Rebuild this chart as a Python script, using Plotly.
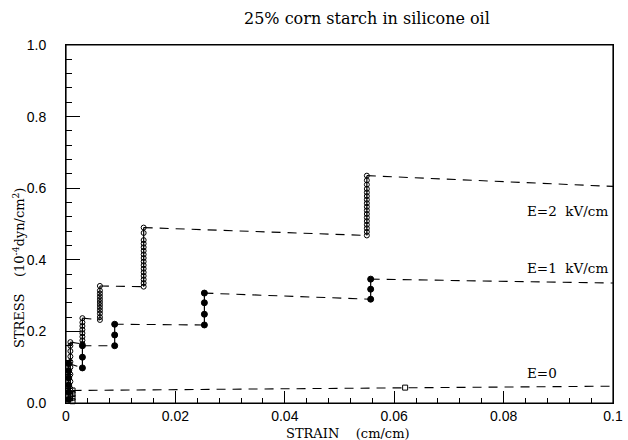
import plotly.graph_objects as go

# ---- data ----
strain_max = 0.1

# E = 2 kV/cm (open circles)
e2_strain = [0.0008, 0.0030, 0.0062, 0.0142, 0.0550]
e2_stress = [
    [0.02, 0.04, 0.06, 0.08, 0.10, 0.115, 0.13, 0.145, 0.16, 0.17],
    [0.165, 0.175, 0.185, 0.195, 0.205, 0.215, 0.225, 0.237],
    [0.232, 0.240, 0.250, 0.258, 0.266, 0.274, 0.282, 0.290, 0.298, 0.306, 0.314, 0.327],
    [0.325, 0.335, 0.345, 0.355, 0.365, 0.375, 0.385, 0.395, 0.405, 0.415, 0.425,
     0.435, 0.445, 0.455, 0.475, 0.490],
    [0.468, 0.478, 0.488, 0.498, 0.508, 0.518, 0.528, 0.538, 0.548, 0.558, 0.568,
     0.578, 0.588, 0.598, 0.610, 0.622, 0.635],
]
e2_end = 0.605

# E = 1 kV/cm (filled circles)
e1_strain = [0.0005, 0.0030, 0.0089, 0.0253, 0.0557]
e1_stress = [
    [0.01, 0.03, 0.05, 0.07, 0.09, 0.11],
    [0.098, 0.128, 0.160],
    [0.160, 0.190, 0.220],
    [0.218, 0.248, 0.280, 0.307],
    [0.290, 0.318, 0.346],
]
e1_end = 0.335

# E = 0 (open squares)
e0_strain = [0.0012]
e0_stress = [[0.005, 0.015, 0.025, 0.035]]
e0_end = 0.047
e0_extra_strain = [0.062]
e0_extra_stress = [0.043]

labels = ["E=2&nbsp;&nbsp;kV/cm", "E=1&nbsp;&nbsp;kV/cm", "E=0"]
label_strain = [0.0839, 0.0839, 0.0839]
label_stress = [0.536, 0.377, 0.084]

x_ticks = [0, 0.02, 0.04, 0.06, 0.08, 0.1]
x_ticktext = ["0", "0.02", "0.04", "0.06", "0.08", "0.1"]
y_ticks = [0.0, 0.2, 0.4, 0.6, 0.8, 1.0]
y_ticktext = ["0.0", "0.2", "0.4", "0.6", "0.8", "1.0"]


def build(strains, cols, end):
    vx, vy, dx, dy = [], [], [], []
    for s, c in zip(strains, cols):
        vx += [s, s, None]
        vy += [min(c), max(c), None]
    for i in range(len(strains)):
        x0, y0 = strains[i], max(cols[i])
        if i + 1 < len(strains):
            x1, y1 = strains[i + 1], min(cols[i + 1])
        else:
            x1, y1 = strain_max, end
        dx += [x0, x1, None]
        dy += [y0, y1, None]
    mx = [s for s, c in zip(strains, cols) for _ in c]
    my = [v for c in cols for v in c]
    return vx, vy, dx, dy, mx, my


fig = go.Figure()
DASH = "9px,7px"

for strains, cols, end, sym, msize in [
    (e0_strain, e0_stress, e0_end, "square-open", 5),
    (e1_strain, e1_stress, e1_end, "circle", 6),
    (e2_strain, e2_stress, e2_end, "circle-open", 5),
]:
    vx, vy, dx, dy, mx, my = build(strains, cols, end)
    fig.add_trace(go.Scatter(x=vx, y=vy, mode="lines",
                             line=dict(color="black", width=1.2),
                             showlegend=False, hoverinfo="skip"))
    fig.add_trace(go.Scatter(x=dx, y=dy, mode="lines",
                             line=dict(color="black", width=1.1, dash=DASH),
                             showlegend=False, hoverinfo="skip"))
    fig.add_trace(go.Scatter(x=mx, y=my, mode="markers",
                             marker=dict(symbol=sym, size=msize, color="black",
                                         line=dict(color="black", width=1)),
                             showlegend=False, cliponaxis=False))

fig.add_trace(go.Scatter(x=e0_extra_strain, y=e0_extra_stress, mode="markers",
                         marker=dict(symbol="square-open", size=5, color="black",
                                     line=dict(color="black", width=1)),
                         showlegend=False))

serif = "DejaVu Serif"
for t, xs, ys in zip(labels, label_strain, label_stress):
    fig.add_annotation(x=xs, y=ys, text=t, showarrow=False, xanchor="left",
                       yanchor="middle", font=dict(family=serif, size=13.5, color="black"))

fig.add_annotation(xref="paper", yref="paper", x=0.551, y=1.075,
                   text="25% corn starch in silicone oil", showarrow=False,
                   xanchor="center", yanchor="middle",
                   font=dict(family=serif, size=16, color="black"))
fig.add_annotation(xref="paper", yref="paper", x=0.515, y=-0.084,
                   text="STRAIN&nbsp;&nbsp;&nbsp;&nbsp;(cm/cm)", showarrow=False,
                   xanchor="center", yanchor="middle",
                   font=dict(family=serif, size=13, color="black"))
fig.add_annotation(xref="paper", yref="paper", x=-0.086, y=0.377,
                   text="STRESS&nbsp;&nbsp;&nbsp;&nbsp;(10<sup>-4</sup>dyn/cm<sup>2</sup>)",
                   showarrow=False, textangle=-90,
                   xanchor="center", yanchor="middle",
                   font=dict(family=serif, size=13, color="black"))

# frame around the plotting area
fig.add_shape(type="rect", xref="paper", yref="paper", x0=0, y0=0, x1=1, y1=1,
              line=dict(color="black", width=1.2), layer="above")

axis_common = dict(showgrid=False, zeroline=False, showline=True, linecolor="black",
                   linewidth=1, mirror=True, ticks="inside", tickcolor="black",
                   tickwidth=1, ticklabeloverflow="allow",
                   tickfont=dict(family="Liberation Sans", size=14, color="black"))

fig.update_xaxes(range=[0, strain_max], tickvals=x_ticks, ticktext=x_ticktext,
                 ticklen=12, minor=dict(dtick=0.004, ticks="inside", ticklen=5,
                                        tickcolor="black", tickwidth=1),
                 **axis_common)
fig.update_yaxes(range=[0, 1.0], tickvals=y_ticks, ticktext=y_ticktext,
                 ticklen=14, ticklabelstandoff=16,
                 minor=dict(dtick=0.04, ticks="inside", ticklen=6,
                            tickcolor="black", tickwidth=1),
                 **axis_common)

fig.update_layout(width=628, height=440, plot_bgcolor="white", paper_bgcolor="white",
                  margin=dict(l=66, r=5, t=45, b=37), showlegend=False)

# remove the browser's default 8px body margin so the figure fills the window exactly
fig.write_html("out.html",
               config={"displayModeBar": False},
               post_script="document.body.style.margin='0px';"
                           "document.body.style.overflow='hidden';")
